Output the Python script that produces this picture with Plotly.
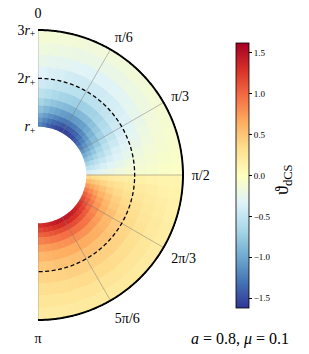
import numpy as np
import plotly.graph_objects as go
import plotly.colors as pc

# ---------------- data ----------------
theta_edges = [5 * k for k in range(37)]               # degrees, polar angle (sector edges)
theta_centers = [2.5 + 5 * k for k in range(36)]
r_edges = [1.0, 1.1, 1.2, 1.3, 1.45, 1.6, 1.8, 2.0, 2.25, 2.5, 2.75, 3.0]  # in units of r_+

# vartheta_dCS: one row per 5-degree sector, one column per radial band
vartheta = [
    [-1.20, -1.10, -0.98, -0.83, -0.68, -0.55, -0.43, -0.33, -0.24, -0.17, -0.12],
    [-1.29, -1.19, -1.06, -0.90, -0.74, -0.59, -0.46, -0.36, -0.26, -0.18, -0.13],
    [-1.39, -1.28, -1.14, -0.97, -0.80, -0.64, -0.50, -0.38, -0.28, -0.20, -0.14],
    [-1.47, -1.35, -1.20, -1.02, -0.84, -0.68, -0.53, -0.41, -0.30, -0.21, -0.15],
    [-1.53, -1.40, -1.25, -1.06, -0.87, -0.70, -0.55, -0.42, -0.31, -0.22, -0.16],
    [-1.57, -1.44, -1.28, -1.09, -0.90, -0.72, -0.56, -0.43, -0.32, -0.22, -0.16],
    [-1.57, -1.44, -1.28, -1.09, -0.90, -0.72, -0.56, -0.43, -0.32, -0.22, -0.16],
    [-1.55, -1.42, -1.26, -1.07, -0.88, -0.71, -0.55, -0.43, -0.32, -0.22, -0.16],
    [-1.50, -1.38, -1.22, -1.04, -0.86, -0.69, -0.54, -0.41, -0.31, -0.21, -0.15],
    [-1.43, -1.31, -1.17, -0.99, -0.82, -0.66, -0.51, -0.39, -0.29, -0.20, -0.15],
    [-1.34, -1.23, -1.10, -0.93, -0.77, -0.62, -0.48, -0.37, -0.27, -0.19, -0.14],
    [-1.23, -1.13, -1.01, -0.86, -0.71, -0.57, -0.44, -0.34, -0.25, -0.18, -0.13],
    [-1.11, -1.02, -0.90, -0.77, -0.63, -0.51, -0.40, -0.31, -0.23, -0.16, -0.11],
    [-0.97, -0.89, -0.79, -0.67, -0.55, -0.45, -0.35, -0.27, -0.20, -0.14, -0.10],
    [-0.83, -0.77, -0.68, -0.58, -0.48, -0.38, -0.30, -0.23, -0.17, -0.12, -0.09],
    [-0.69, -0.63, -0.56, -0.48, -0.39, -0.32, -0.25, -0.19, -0.14, -0.10, -0.07],
    [-0.54, -0.50, -0.44, -0.37, -0.31, -0.25, -0.19, -0.15, -0.11, -0.08, -0.06],
    [-0.37, -0.34, -0.30, -0.26, -0.21, -0.17, -0.13, -0.10, -0.08, -0.05, -0.04],
    [0.37, 0.34, 0.31, 0.27, 0.23, 0.20, 0.18, 0.16, 0.14, 0.12, 0.11],
    [0.57, 0.52, 0.46, 0.40, 0.34, 0.29, 0.24, 0.21, 0.18, 0.15, 0.13],
    [0.75, 0.68, 0.60, 0.51, 0.43, 0.36, 0.30, 0.25, 0.21, 0.18, 0.15],
    [0.90, 0.82, 0.72, 0.61, 0.51, 0.42, 0.35, 0.29, 0.24, 0.20, 0.16],
    [1.04, 0.94, 0.82, 0.70, 0.58, 0.48, 0.39, 0.33, 0.27, 0.22, 0.18],
    [1.15, 1.04, 0.91, 0.77, 0.64, 0.53, 0.43, 0.35, 0.29, 0.23, 0.19],
    [1.25, 1.13, 0.98, 0.83, 0.69, 0.57, 0.46, 0.38, 0.31, 0.25, 0.20],
    [1.32, 1.20, 1.05, 0.88, 0.73, 0.60, 0.49, 0.40, 0.32, 0.26, 0.21],
    [1.38, 1.25, 1.09, 0.92, 0.76, 0.63, 0.51, 0.41, 0.33, 0.27, 0.21],
    [1.42, 1.29, 1.12, 0.94, 0.78, 0.64, 0.52, 0.42, 0.34, 0.27, 0.22],
    [1.45, 1.31, 1.14, 0.96, 0.79, 0.65, 0.53, 0.43, 0.35, 0.28, 0.22],
    [1.46, 1.32, 1.15, 0.97, 0.80, 0.66, 0.53, 0.43, 0.35, 0.28, 0.22],
    [1.46, 1.32, 1.15, 0.97, 0.80, 0.66, 0.53, 0.43, 0.35, 0.28, 0.22],
    [1.45, 1.31, 1.14, 0.96, 0.79, 0.65, 0.53, 0.43, 0.35, 0.28, 0.22],
    [1.42, 1.29, 1.12, 0.94, 0.78, 0.64, 0.52, 0.42, 0.34, 0.27, 0.22],
    [1.38, 1.25, 1.09, 0.92, 0.76, 0.63, 0.51, 0.41, 0.33, 0.27, 0.21],
    [1.34, 1.22, 1.06, 0.89, 0.74, 0.61, 0.49, 0.40, 0.33, 0.26, 0.21],
    [1.31, 1.18, 1.03, 0.87, 0.72, 0.59, 0.48, 0.39, 0.32, 0.26, 0.21],
]

angle_ticks = [0, 30, 60, 90, 120, 150, 180]
angle_tick_text = ["0", "π/6", "π/3", "π/2", "2π/3", "5π/6", "π"]
grid_angles = [0, 30, 60, 90, 120, 150, 180]
r_ticks = [1, 2, 3]
r_tick_text = ["<i>r</i><sub>+</sub>", "2<i>r</i><sub>+</sub>", "3<i>r</i><sub>+</sub>"]
dashed_radius = 2.0
cbar_ticks = [-1.5, -1.0, -0.5, 0.0, 0.5, 1.0, 1.5]
cbar_tick_text = ["−1.5", "−1.0", "−0.5", "0.0", "0.5", "1.0", "1.5"]
cmin, cmax = -1.62, 1.62
cbar_title = "ϑ<sub>dCS</sub>"
label_text = "<i>a</i> = 0.8, <i>μ</i> = 0.1"

# ---------------- figure ----------------
W, H = 309, 354
FONT = "Liberation Serif"
cs = pc.diverging.RdYlBu[::-1]

# radial axis slightly extended so the boundary line at r = 3 r_+ is not clipped
r_lo, r_hi = r_edges[0], r_edges[-1] + 0.03
k = (r_edges[-1] - r_lo) / (r_hi - r_lo)
hole = k / (2 + k)                      # keeps r_+ : 3r_+ = 1 : 3 on screen
R_out = 145.0                           # px radius of r = 3 r_+
R_dom = R_out / (3 * hole)              # px radius of the whole polar area
cx, cy = 38.0, 175.0                    # px centre of the half-annulus

th, base, length, width, col = [], [], [], [], []
for i, tc in enumerate(theta_centers):
    for j in range(len(r_edges) - 1):
        th.append(tc)
        base.append(r_edges[j])
        length.append(r_edges[j + 1] - r_edges[j])
        width.append(theta_edges[i + 1] - theta_edges[i])
        col.append(vartheta[i][j])

fig = go.Figure()
fig.add_trace(go.Barpolar(
    theta=th, r=length, base=base, width=width,
    marker=dict(
        color=col, colorscale=cs, cmin=cmin, cmax=cmax,
        line=dict(width=0.7, color=col, colorscale=cs, cmin=cmin, cmax=cmax),
        colorbar=dict(
            x=236 / W, xanchor="left", xpad=0, ypad=0,
            y=(H - 175.5) / H, yanchor="middle",
            thickness=13, len=265 / H, lenmode="fraction",
            outlinewidth=0.8, outlinecolor="black",
            ticks="outside", ticklen=3, tickwidth=0.8, tickcolor="black",
            tickvals=cbar_ticks, ticktext=cbar_tick_text,
            tickfont=dict(family=FONT, size=9, color="black"),
        ),
    ),
    hoverinfo="skip", showlegend=False,
))

for a in grid_angles:
    fig.add_trace(go.Scatterpolar(
        r=[r_edges[0], r_edges[-1]], theta=[a, a], mode="lines",
        line=dict(color="rgba(120,120,120,0.6)", width=0.8),
        hoverinfo="skip", showlegend=False,
    ))

circ_theta = np.linspace(0, 180, 361)
fig.add_trace(go.Scatterpolar(
    r=[dashed_radius] * len(circ_theta), theta=circ_theta, mode="lines",
    line=dict(color="black", width=1.3, dash="4px,2.5px"),
    hoverinfo="skip", showlegend=False,
))
# outer boundary of the domain (r = 3 r_+)
fig.add_trace(go.Scatterpolar(
    r=[r_edges[-1]] * len(circ_theta), theta=circ_theta, mode="lines",
    line=dict(color="black", width=2.0), cliponaxis=False,
    hoverinfo="skip", showlegend=False,
))

fig.update_layout(
    width=W, height=H, margin=dict(l=0, r=0, t=0, b=0, pad=0, autoexpand=False),
    paper_bgcolor="white", plot_bgcolor="white",
    font=dict(family=FONT, color="black"),
    polar=dict(
        domain=dict(x=[cx / W, (cx + R_dom) / W],
                    y=[(H - cy - R_dom) / H, (H - cy + R_dom) / H]),
        sector=[-90, 90],
        hole=hole,
        bgcolor="white",
        angularaxis=dict(
            rotation=90, direction="clockwise", thetaunit="degrees",
            tickmode="array", tickvals=angle_ticks, ticktext=angle_tick_text,
            showgrid=False, showline=False,
            ticks="outside", ticklen=4, tickcolor="rgba(0,0,0,0)",
            tickfont=dict(family=FONT, size=14, color="black"),
        ),
        radialaxis=dict(
            range=[r_lo, r_hi], tickmode="array",
            tickvals=r_ticks, ticktext=r_tick_text,
            showgrid=False, showline=False, ticks="",
            angle=90, side="counterclockwise", tickangle=90,
            tickfont=dict(family=FONT, size=14, color="black"),
        ),
    ),
    annotations=[
        dict(text=label_text, x=240 / W, y=(H - 339) / H, xref="paper", yref="paper",
             xanchor="center", yanchor="middle", showarrow=False,
             font=dict(family=FONT, size=16, color="black")),
        dict(text=cbar_title, x=283 / W, y=(H - 180) / H, xref="paper", yref="paper",
             xanchor="center", yanchor="middle", showarrow=False, textangle=-90,
             font=dict(family=FONT, size=18, color="black")),
    ],
)

fig.write_html("out.html", config={"displayModeBar": False},
               post_script="document.body.style.margin='0';")
